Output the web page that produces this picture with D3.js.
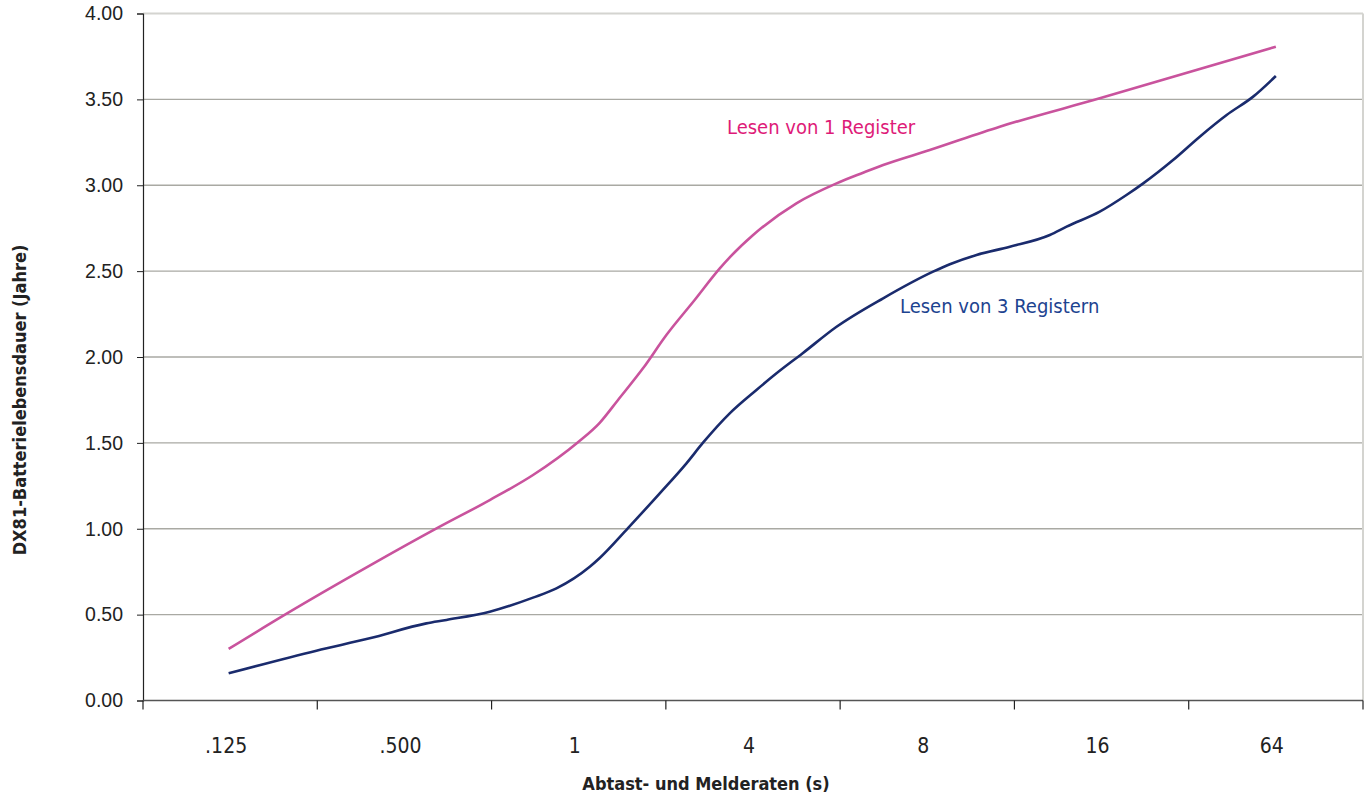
<!DOCTYPE html>
<html>
<head>
<meta charset="utf-8">
<script src="https://cdn.jsdelivr.net/npm/d3@7"></script>
<style>
  html, body { margin: 0; padding: 0; background: #fff; }
  svg { display: block; }
  .cond { font-family: "Liberation Sans Narrow", "DejaVu Sans Condensed", "Roboto Condensed", sans-serif; }
</style>
</head>
<body>
<svg id="chart" width="1364" height="796"></svg>
<script>
// ---- data ----
const categories = [".125", ".500", "1", "4", "8", "16", "64"];
const yTicks = [0, 0.5, 1, 1.5, 2, 2.5, 3, 3.5, 4];

// position along the category axis (0 = ".125" ... 6 = "64") and battery life in years
const oneRegisterX = [0, 0.33, 0.808, 1.199, 1.496, 1.744, 1.998, 2.126, 2.231, 2.374, 2.508, 2.670, 2.814, 2.871, 3.005, 3.253, 3.483, 3.635, 3.750, 4.017, 4.418, 4.991, 6];
const oneRegisterY = [0.30, 0.504, 0.785, 1.006, 1.167, 1.313, 1.501, 1.617, 1.750, 1.934, 2.128, 2.332, 2.516, 2.580, 2.710, 2.895, 3.011, 3.073, 3.118, 3.205, 3.341, 3.506, 3.807];

const threeRegistersX = [0, 0.503, 0.808, 1.133, 1.248, 1.496, 1.744, 1.878, 2.069, 2.126, 2.288, 2.470, 2.623, 2.718, 2.871, 3.024, 3.139, 3.289, 3.483, 3.750, 4.036, 4.132, 4.285, 4.476, 4.705, 4.801, 4.991, 5.144, 5.240, 5.411, 5.564, 5.718, 5.870, 6];
const threeRegistersY = [0.158, 0.290, 0.362, 0.449, 0.469, 0.517, 0.599, 0.653, 0.779, 0.830, 1.004, 1.206, 1.381, 1.501, 1.672, 1.808, 1.905, 2.022, 2.176, 2.342, 2.497, 2.540, 2.594, 2.642, 2.710, 2.759, 2.846, 2.943, 3.011, 3.147, 3.283, 3.409, 3.516, 3.636];

const seriesNames = ["Lesen von 1 Register", "Lesen von 3 Registern"];
const xTitle = "Abtast- und Melderaten (s)";
const yTitle = "DX81-Batterielebensdauer (Jahre)";

// ---- layout ----
const svg = d3.select("#chart");
const plotLeft = 143, plotRight = 1363, plotTop = 13.5, plotBottom = 700.5;

const xBand = d3.scaleBand().domain(categories).range([plotLeft, plotRight]).padding(0);
const bw = xBand.bandwidth();
const x = d3.scaleLinear().domain([0, categories.length - 1])
  .range([xBand(categories[0]) + bw / 2 - 1.5, xBand(categories[categories.length - 1]) + bw / 2]);
const y = d3.scaleLinear().domain([0, 4]).range([plotBottom, plotTop]);

// gridlines
svg.append("g").selectAll("line").data(yTicks.filter(d => d > 0)).join("line")
  .attr("x1", plotLeft).attr("x2", plotRight)
  .attr("y1", d => y(d)).attr("y2", d => y(d))
  .attr("stroke", d => d === 4 ? "#d4d4d0" : "#a9a9a3").attr("stroke-width", d => d === 4 ? 2 : 1.3);

// right border
svg.append("line").attr("x1", plotRight).attr("x2", plotRight).attr("y1", plotTop).attr("y2", plotBottom)
  .attr("stroke", "#d4d4d0").attr("stroke-width", 2);

// y axis
const yAxis = d3.axisLeft(y).tickValues(yTicks).tickFormat(d3.format(".2f")).tickSize(6).tickPadding(14);
const gy = svg.append("g").attr("transform", `translate(${plotLeft},0)`).call(yAxis);
gy.select(".domain").attr("stroke", "#222").attr("stroke-width", 1.2);
gy.selectAll(".tick line").attr("stroke", "#222");
gy.selectAll(".tick text").attr("fill", "#222")
  .style("font-family", "'Liberation Sans', Arial, Helvetica, sans-serif").style("font-size", "19.5px");

// x axis
const gx = svg.append("g");
gx.append("line").attr("x1", plotLeft).attr("x2", plotRight).attr("y1", plotBottom).attr("y2", plotBottom)
  .attr("stroke", "#555").attr("stroke-width", 1.5);
const boundaries = categories.map(c => xBand(c)).concat([xBand.range()[1]]);
gx.selectAll("line.tk").data(boundaries).join("line").attr("class", "tk")
  .attr("x1", d => d).attr("x2", d => d).attr("y1", plotBottom).attr("y2", plotBottom + 9)
  .attr("stroke", "#222").attr("stroke-width", 1.2);
gx.selectAll("text").data(categories).join("text").attr("class", "cond")
  .attr("x", d => xBand(d) + bw / 2 - 4).attr("y", 753)
  .attr("text-anchor", "middle").attr("fill", "#222").style("font-size", "21px")
  .text(d => d);

// axis titles
svg.append("text").attr("class", "cond").attr("x", 706).attr("y", 790)
  .attr("text-anchor", "middle").attr("fill", "#222")
  .style("font-size", "18px").style("font-weight", "bold").text(xTitle);
svg.append("text").attr("class", "cond")
  .attr("transform", "translate(26,400) rotate(-90)")
  .attr("text-anchor", "middle").attr("fill", "#222")
  .style("font-size", "18px").style("font-weight", "bold").text(yTitle);

// lines
const line = d3.line().x(d => x(d[0])).y(d => y(d[1])).curve(d3.curveMonotoneX);
const s1 = oneRegisterX.map((v, i) => [v, oneRegisterY[i]]);
const s2 = threeRegistersX.map((v, i) => [v, threeRegistersY[i]]);
svg.append("path").datum(s1).attr("d", line).attr("fill", "none")
  .attr("stroke", "#c9539d").attr("stroke-width", 2.6);
svg.append("path").datum(s2).attr("d", line).attr("fill", "none")
  .attr("stroke", "#1a2b6d").attr("stroke-width", 2.6);

// series labels
svg.append("text").attr("class", "cond").attr("x", 727).attr("y", 134)
  .attr("fill", "#de1a78").style("font-size", "20px").text(seriesNames[0]);
svg.append("text").attr("class", "cond").attr("x", 900).attr("y", 313)
  .attr("fill", "#1d4390").style("font-size", "20px").text(seriesNames[1]);
</script>
</body>
</html>
